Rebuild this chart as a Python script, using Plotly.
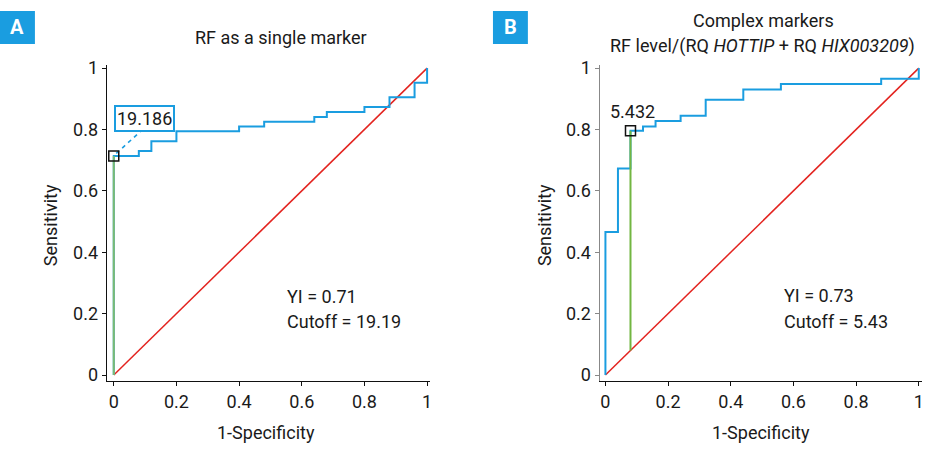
import plotly.graph_objects as go

# ---------------- data ----------------
tick_vals = [0, 0.2, 0.4, 0.6, 0.8, 1]
tick_text = ["0", "0.2", "0.4", "0.6", "0.8", "1"]

# Panel A: RF as a single marker
a_fpr = [0, 0, 0.08, 0.12, 0.20, 0.40, 0.48, 0.64, 0.68, 0.80, 0.88, 0.96, 1.0]
a_sens = [0, 0.714, 0.730, 0.762, 0.794, 0.810, 0.825, 0.841, 0.857, 0.873, 0.905, 0.952, 1.0]
a_cut_fpr = 0.0
a_cut_sens = 0.714
a_cut_label = "19.186"
a_yi = "YI = 0.71"
a_cutoff = "Cutoff = 19.19"

# Panel B: complex markers
b_fpr = [0, 0, 0.04, 0.08, 0.12, 0.16, 0.24, 0.32, 0.44, 0.56, 0.88, 1.0]
b_sens = [0, 0.466, 0.673, 0.796, 0.810, 0.828, 0.845, 0.897, 0.930, 0.948, 0.965, 1.0]
b_cut_fpr = 0.08
b_cut_sens = 0.796
b_cut_label = "5.432"
b_yi = "YI = 0.73"
b_cutoff = "Cutoff = 5.43"

diag = [0, 1]

# ---------------- style ----------------
FONT = "Roboto, Arial, sans-serif"
FS = 18
BLUE = "#1a9de0"
RED = "#e3231f"
GREEN_A = "#7dbb72"
GREEN_B = "#72b641"
TXT = "#1a1a1a"
W, H = 951, 467

def px_x(p):
    return p / W

def px_y(p):
    return 1 - p / H

fig = go.Figure()

# Panel A traces
fig.add_trace(go.Scatter(x=diag, y=diag, mode="lines", line=dict(color=RED, width=1.5),
                         xaxis="x", yaxis="y", hoverinfo="skip"))
fig.add_trace(go.Scatter(x=a_fpr, y=a_sens, mode="lines", line=dict(color=BLUE, width=2, shape="hv"),
                         xaxis="x", yaxis="y"))
fig.add_trace(go.Scatter(x=[a_cut_fpr, a_cut_fpr], y=[a_cut_fpr, a_cut_sens], mode="lines",
                         line=dict(color=GREEN_A, width=2), xaxis="x", yaxis="y"))
fig.add_trace(go.Scatter(x=[a_cut_fpr + 0.008, 0.092], y=[a_cut_sens + 0.008, 0.80], mode="lines",
                         line=dict(color=BLUE, width=1.6, dash="4px,4px"), xaxis="x", yaxis="y"))
fig.add_trace(go.Scatter(x=[a_cut_fpr], y=[a_cut_sens], mode="markers",
                         marker=dict(symbol="square-open", size=10, color="#111", line=dict(width=1.5)),
                         xaxis="x", yaxis="y", cliponaxis=False))

# Panel B traces
fig.add_trace(go.Scatter(x=diag, y=diag, mode="lines", line=dict(color=RED, width=1.5),
                         xaxis="x2", yaxis="y2"))
fig.add_trace(go.Scatter(x=b_fpr, y=b_sens, mode="lines", line=dict(color=BLUE, width=2, shape="hv"),
                         xaxis="x2", yaxis="y2"))
fig.add_trace(go.Scatter(x=[b_cut_fpr, b_cut_fpr], y=[b_cut_fpr, b_cut_sens], mode="lines",
                         line=dict(color=GREEN_B, width=2), xaxis="x2", yaxis="y2"))
fig.add_trace(go.Scatter(x=[b_cut_fpr], y=[b_cut_sens], mode="markers",
                         marker=dict(symbol="square-open", size=10, color="#111", line=dict(width=1.5)),
                         xaxis="x2", yaxis="y2", cliponaxis=False))

def xaxis(dom, rng, anchor):
    return dict(domain=dom, range=rng, anchor=anchor, showline=True, linecolor="#111", linewidth=1.3,
                ticks="outside", ticklen=4, tickcolor="#111", tickwidth=1.2,
                tickvals=tick_vals, ticktext=tick_text, showgrid=False, zeroline=False,
                tickfont=dict(family=FONT, size=FS, color=TXT), fixedrange=True)

def yaxis(dom, rng, anchor, lc):
    return dict(domain=dom, range=rng, anchor=anchor, showline=True, linecolor=lc, linewidth=1.3,
                ticks="outside", ticklen=4, tickcolor=lc, tickwidth=1.2,
                tickvals=tick_vals, ticktext=tick_text, showgrid=False, zeroline=False,
                tickfont=dict(family=FONT, size=FS, color=TXT), fixedrange=True)

ydom = [px_y(383), px_y(59)]
yrng = [-0.02, (376.7 - 59) / 315]

def ann(text, x, y, xref="paper", yref="paper", xanchor="center", yanchor="middle", **kw):
    d = dict(text=text, x=x, y=y, xref=xref, yref=yref, xanchor=xanchor, yanchor=yanchor,
             showarrow=False, font=dict(family=FONT, size=FS, color=TXT))
    d.update(kw)
    return d

annotations = []
# titles
annotations.append(ann("RF as a single marker", px_x(282), px_y(30)))
annotations.append(ann("Complex markers", px_x(765), px_y(13)))
annotations.append(ann("RF level/(RQ <i>HOTTIP</i> + RQ <i>HIX003209</i>)", px_x(764), px_y(39)))
# axis titles
for cx, sy in [(267, 50), (763, 545)]:
    annotations.append(ann("1-Specificity", px_x(cx), px_y(436)))
    annotations.append(ann("Sensitivity", px_x(sy), px_y(223), textangle=-90))
# panel letters
for lx, letter in [(17.5, "A"), (511.5, "B")]:
    annotations.append(ann("<b>%s</b>" % letter, px_x(lx), px_y(20),
                           font=dict(family=FONT, size=20, color="white")))
# cutoff labels
annotations.append(ann(a_cut_label, 0.0975, 0.837, xref="x", yref="y",
                       bordercolor=BLUE, borderwidth=2, borderpad=1, bgcolor="white"))
annotations.append(ann(b_cut_label, 0.087, 0.86, xref="x2", yref="y2"))
# YI / cutoff texts
annotations.append(ann(a_yi, 0.548, 0.256, xref="x", yref="y", xanchor="left"))
annotations.append(ann(a_cutoff, 0.548, 0.174, xref="x", yref="y", xanchor="left"))
annotations.append(ann(b_yi, 0.562, 0.259, xref="x2", yref="y2", xanchor="left"))
annotations.append(ann(b_cutoff, 0.562, 0.175, xref="x2", yref="y2", xanchor="left"))

shapes = [
    dict(type="rect", xref="paper", yref="paper", x0=px_x(0), x1=px_x(35), y0=px_y(37), y1=px_y(3),
         fillcolor=BLUE, line=dict(width=0)),
    dict(type="rect", xref="paper", yref="paper", x0=px_x(494), x1=px_x(529), y0=px_y(37), y1=px_y(3),
         fillcolor=BLUE, line=dict(width=0)),
]

fig.update_layout(
    width=W, height=H, autosize=False,
    margin=dict(l=0, r=0, t=0, b=0, pad=0),
    paper_bgcolor="white", plot_bgcolor="white",
    showlegend=False,
    font=dict(family=FONT, size=FS, color=TXT),
    xaxis=xaxis([px_x(107), px_x(431)], [(107 - 114) / 314, (431 - 114) / 314], "y"),
    yaxis=yaxis(ydom, yrng, "x", "#111"),
    xaxis2=xaxis([px_x(601), px_x(924)], [(601 - 606.7) / 314, (924 - 606.7) / 314], "y2"),
    yaxis2=yaxis(ydom, yrng, "x2", "#888"),
    annotations=annotations,
    shapes=shapes,
)

fig.write_html("out.html")
